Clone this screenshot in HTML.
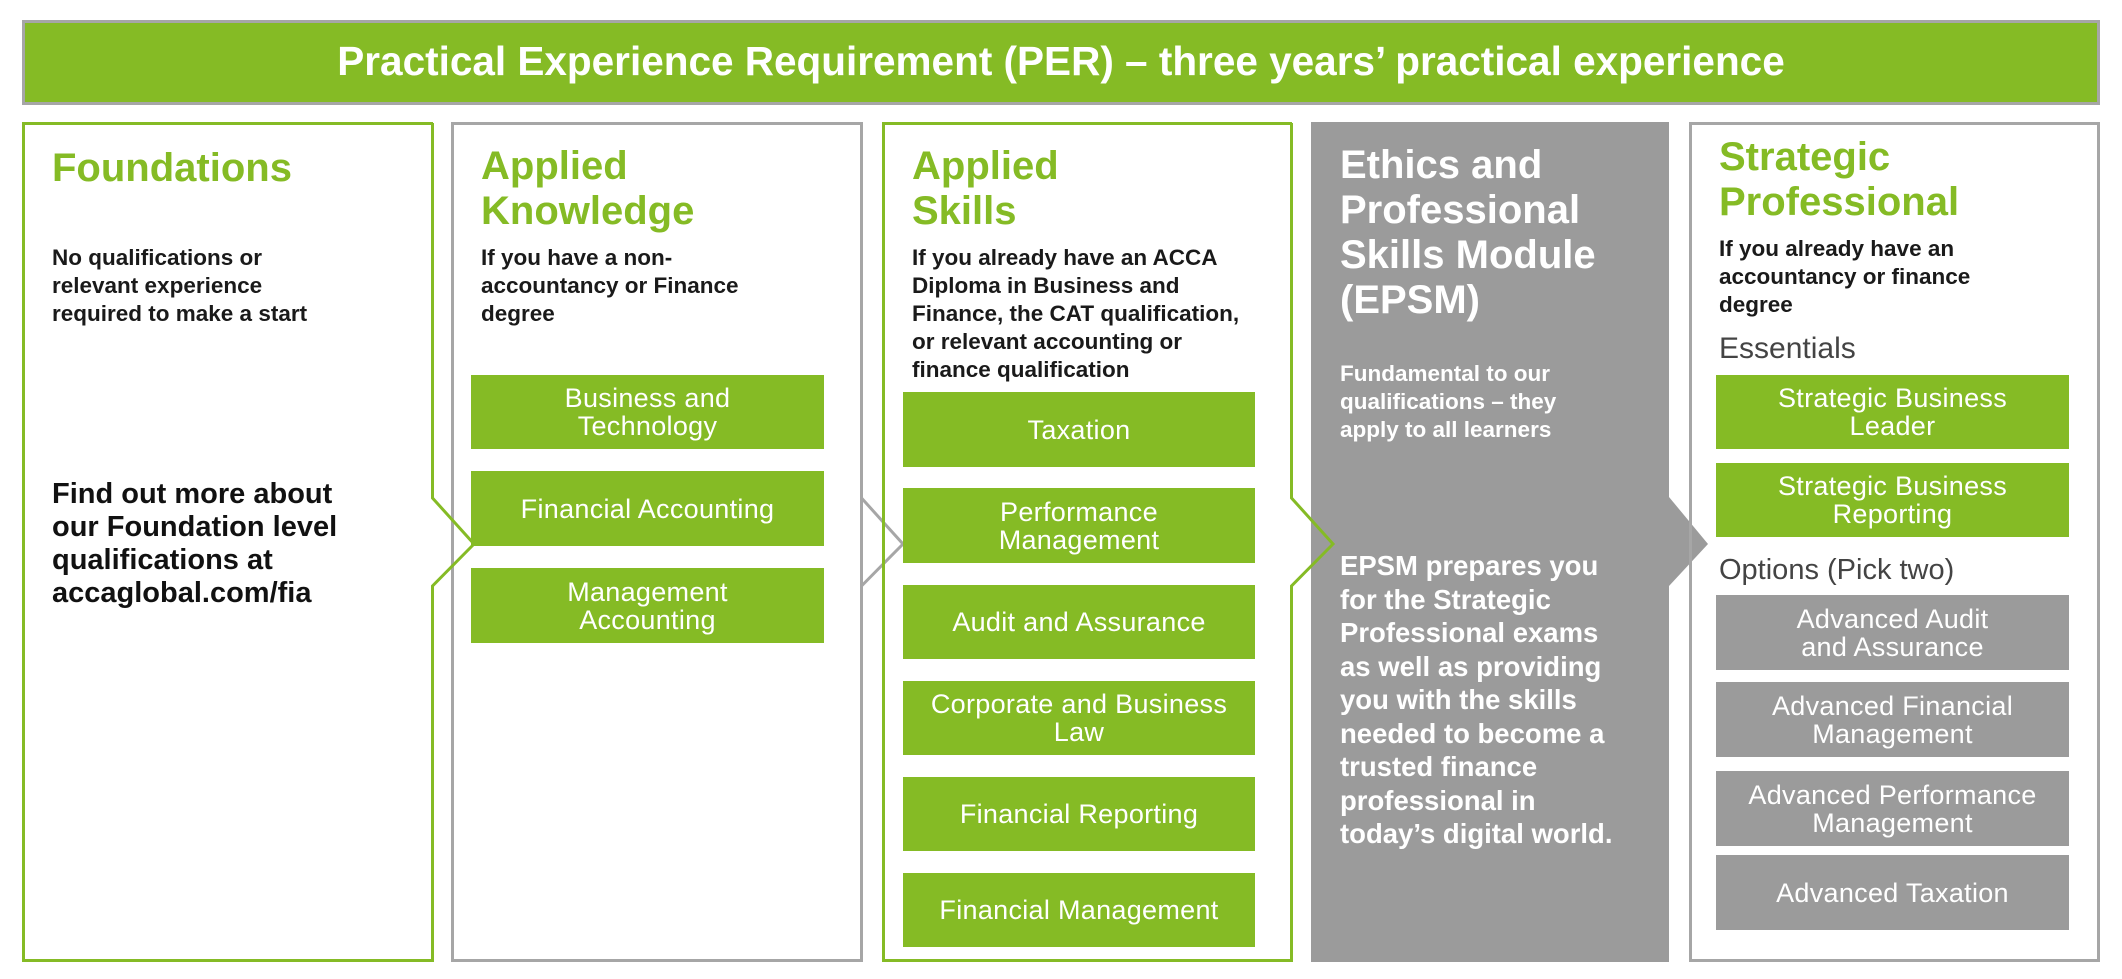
<!DOCTYPE html>
<html><head><meta charset="utf-8"><style>
body{margin:0;width:2122px;height:979px;background:#fff;position:relative;overflow:hidden;font-family:"Liberation Sans",Arial,sans-serif;}
.a{position:absolute;}
.h{color:#85bb25;font-weight:bold;font-size:40px;line-height:45px;}
.s{color:#1a1a1a;font-weight:bold;font-size:22.5px;line-height:28px;}
.b{position:absolute;color:#fff;font-size:27px;line-height:28px;display:flex;align-items:center;justify-content:center;text-align:center;letter-spacing:0.3px;}
.g{background:#85bb25;}
.y{background:#9b9b9b;}
</style></head><body>
<svg class="a" style="left:0;top:0" width="2122" height="979">
<rect x="23.5" y="21.5" width="2075" height="82" fill="#85bb25" stroke="#a6a6a6" stroke-width="3"/>
<rect x="1311" y="122" width="358" height="840" fill="#9b9b9b"/>
<polygon points="1669,497 1708,544 1669,586" fill="#9b9b9b"/>
<rect x="452.5" y="123.5" width="409" height="837" fill="none" stroke="#a6a6a6" stroke-width="3"/>
<rect x="1690.5" y="123.5" width="408" height="837" fill="none" stroke="#a6a6a6" stroke-width="3"/>
<polyline points="433,123.5 23.5,123.5 23.5,960.5 433,960.5" fill="none" stroke="#85bb25" stroke-width="3"/>
<polyline points="432.5,123 432.5,498 474,544 432.5,586 432.5,962" fill="none" stroke="#85bb25" stroke-width="3"/>
<polyline points="861.5,498 903,544 861.5,586" fill="none" stroke="#a6a6a6" stroke-width="3"/>
<polyline points="1292,123.5 883.5,123.5 883.5,960.5 1292,960.5" fill="none" stroke="#85bb25" stroke-width="3"/>
<polyline points="1291.5,123 1291.5,498 1333,544 1291.5,586 1291.5,962" fill="none" stroke="#85bb25" stroke-width="3"/>
</svg>
<div class="a" style="left:22px;top:37px;width:2078px;text-align:center;color:#fff;font-weight:bold;font-size:40.5px;line-height:48px;">Practical Experience Requirement (PER) – three years’ practical experience</div>

<div class="a h" style="left:52px;top:146px">Foundations</div>
<div class="a s" style="left:52px;top:244px">No qualifications or<br>relevant experience<br>required to make a start</div>
<div class="a" style="left:52px;top:478px;font-weight:bold;font-size:29px;line-height:33px;color:#111">Find out more about<br>our Foundation level<br>qualifications at<br>accaglobal.com/fia</div>

<div class="a h" style="left:481px;top:144px">Applied<br>Knowledge</div>
<div class="a s" style="left:481px;top:244px">If you have a non-<br>accountancy or Finance<br>degree</div>
<div class="b g" style="left:471px;top:375px;width:353px;height:74px">Business and<br>Technology</div>
<div class="b g" style="left:471px;top:471px;width:353px;height:75px">Financial Accounting</div>
<div class="b g" style="left:471px;top:568px;width:353px;height:75px">Management<br>Accounting</div>

<div class="a h" style="left:912px;top:144px">Applied<br>Skills</div>
<div class="a s" style="left:912px;top:244px">If you already have an ACCA<br>Diploma in Business and<br>Finance, the CAT qualification,<br>or relevant accounting or<br>finance qualification</div>
<div class="b g" style="left:903px;top:392px;width:352px;height:75px">Taxation</div>
<div class="b g" style="left:903px;top:488px;width:352px;height:75px">Performance<br>Management</div>
<div class="b g" style="left:903px;top:585px;width:352px;height:74px">Audit and Assurance</div>
<div class="b g" style="left:903px;top:681px;width:352px;height:74px">Corporate and Business<br>Law</div>
<div class="b g" style="left:903px;top:777px;width:352px;height:74px">Financial Reporting</div>
<div class="b g" style="left:903px;top:873px;width:352px;height:74px">Financial Management</div>

<div class="a h" style="left:1340px;top:143px;color:#fff">Ethics and<br>Professional<br>Skills Module<br>(EPSM)</div>
<div class="a s" style="left:1340px;top:360px;color:#fff">Fundamental to our<br>qualifications – they<br>apply to all learners</div>
<div class="a" style="left:1340px;top:549px;color:#fff;font-weight:bold;font-size:27.5px;line-height:33.5px">EPSM prepares you<br>for the Strategic<br>Professional exams<br>as well as providing<br>you with the skills<br>needed to become a<br>trusted finance<br>professional in<br>today’s digital world.</div>

<div class="a h" style="left:1719px;top:135px">Strategic<br>Professional</div>
<div class="a s" style="left:1719px;top:235px">If you already have an<br>accountancy or finance<br>degree</div>
<div class="a" style="left:1719px;top:332px;font-size:30px;line-height:34px;color:#444">Essentials</div>
<div class="b g" style="left:1716px;top:375px;width:353px;height:74px">Strategic Business<br>Leader</div>
<div class="b g" style="left:1716px;top:463px;width:353px;height:74px">Strategic Business<br>Reporting</div>
<div class="a" style="left:1719px;top:553px;font-size:29px;line-height:34px;color:#444">Options (Pick two)</div>
<div class="b y" style="left:1716px;top:595px;width:353px;height:75px">Advanced Audit<br>and Assurance</div>
<div class="b y" style="left:1716px;top:682px;width:353px;height:75px">Advanced Financial<br>Management</div>
<div class="b y" style="left:1716px;top:771px;width:353px;height:75px">Advanced Performance<br>Management</div>
<div class="b y" style="left:1716px;top:855px;width:353px;height:75px">Advanced Taxation</div>
</body></html>
